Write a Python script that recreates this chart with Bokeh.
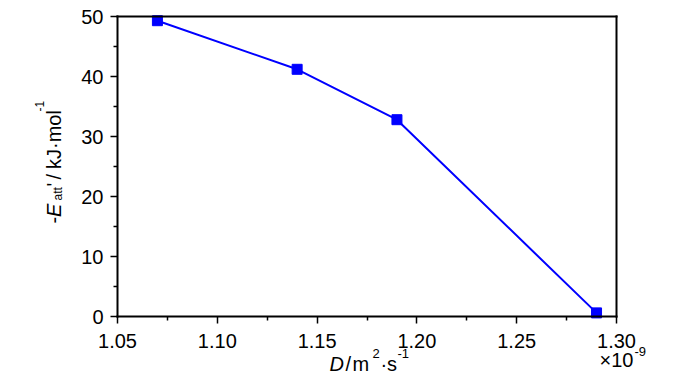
from bokeh.plotting import figure
from bokeh.models import FixedTicker, PrintfTickFormatter, Label, Range1d, LinearAxis
from bokeh.embed import file_html
from bokeh.resources import INLINE
import math

# Data (D in units of 1e-9 m^2/s, -E_att' in kJ/mol)
D_values = [1.07, 1.14, 1.19, 1.29]
E_values = [49.3, 41.2, 32.8, 0.6]

x_ticks = [1.05, 1.10, 1.15, 1.20, 1.25, 1.30]
x_minor = [1.075, 1.125, 1.175, 1.225, 1.275]
y_ticks = [0, 10, 20, 30, 40, 50]
y_minor = [5, 15, 25, 35, 45]

FONT = "Liberation Sans"

# layout (pixels) of the plotting box inside the 700x374 canvas
W, H = 700, 374
BL, BR, BT, BB = 117, 616, 16, 316
xpx = (BR - BL) / (x_ticks[-1] - x_ticks[0])
ypx = (BB - BT) / (y_ticks[-1] - y_ticks[0])
x_range = Range1d(x_ticks[0] - BL / xpx, x_ticks[-1] + (W - BR) / xpx)
y_range = Range1d(y_ticks[0] - (H - BB) / ypx, y_ticks[-1] + BT / ypx)

p = figure(width=W, height=H, output_backend="svg", toolbar_location=None,
           x_range=x_range, y_range=y_range, min_border=0)
p.xgrid.visible = False
p.ygrid.visible = False
p.outline_line_color = None

xb = (x_ticks[0], x_ticks[-1])
yb = (y_ticks[0], y_ticks[-1])

def style(ax):
    ax.axis_line_width = 2
    ax.axis_line_color = "black"
    ax.axis_line_cap = "square"
    ax.major_tick_line_width = 1.5
    ax.minor_tick_line_width = 1.5
    ax.major_tick_out = 7
    ax.major_tick_in = 0
    ax.minor_tick_out = 4
    ax.minor_tick_in = 0
    ax.major_label_text_font = FONT
    ax.major_label_text_font_size = "20px"
    ax.major_label_text_color = "black"
    ax.axis_label = None

xa = p.xaxis[0]
ya = p.yaxis[0]
style(xa)
style(ya)
xa.fixed_location = y_ticks[0]
xa.bounds = xb
xa.ticker = FixedTicker(ticks=x_ticks, minor_ticks=x_minor)
xa.formatter = PrintfTickFormatter(format="%.2f")
xa.major_label_standoff = 10
ya.fixed_location = x_ticks[0]
ya.bounds = yb
ya.ticker = FixedTicker(ticks=y_ticks, minor_ticks=y_minor)
ya.formatter = PrintfTickFormatter(format="%d")
ya.major_label_standoff = 7

# top and right frame lines
top = LinearAxis(fixed_location=y_ticks[-1], bounds=xb)
right = LinearAxis(fixed_location=x_ticks[-1], bounds=yb)
for ax in (top, right):
    style(ax)
    ax.major_tick_line_color = None
    ax.minor_tick_line_color = None
    ax.major_label_text_font_size = "0px"
    ax.major_label_text_alpha = 0
p.add_layout(top, "above")
p.add_layout(right, "right")

p.line(D_values, E_values, line_color="#0000FF", line_width=2)
p.scatter(D_values, E_values, marker="square", size=10, fill_color="#0000FF", line_color="#0000FF")

def hlab(text, x, base, size, style="normal"):
    # x: px from left; base: wanted baseline, px from bottom
    s = float(size.rstrip("px"))
    p.add_layout(Label(x=x, y=base + 0.3 * s, x_units="screen", y_units="screen", text=text,
                       text_font=FONT, text_font_size=size, text_font_style=style,
                       text_color="black", text_align="left", text_baseline="alphabetic"))

def vlab(text, base, y, size, style="normal"):
    # base: wanted baseline, px from left; y: px from bottom (text reads upward)
    s = float(size.rstrip("px"))
    p.add_layout(Label(x=base - 0.22 * s, y=y, x_units="screen", y_units="screen", text=text,
                       text_font=FONT, text_font_size=size, text_font_style=style,
                       text_color="black", angle=math.pi / 2, text_align="left",
                       text_baseline="alphabetic"))

# x-axis label: D / m^2·s^-1
b = 5
hlab("D", 329, b, "20px", "italic")
hlab("/", 345, b, "20px")
hlab("m", 352, b, "20px")
hlab("2", 372, b + 12, "13px")
hlab("\u00b7", 380, b, "20px")
hlab("s", 386.5, b, "20px")
hlab("-1", 397, b + 12, "13px")

# multiplier
hlab("\u00d710", 599, 9, "20px")
hlab("-9", 634, 19, "13px")

# y-axis label: -E_att' / kJ·mol^-1 (rotated)
bx = 58
vlab("-", bx, 151, "20px")
vlab("E", bx, 157.5, "20px", "italic")
vlab("att", bx + 2, 174, "12px")
vlab("'", bx, 188, "20px")
vlab("/", bx, 195, "20px")
vlab("kJ\u00b7mol", bx, 205.5, "20px")
vlab("-1", bx - 16, 263, "12px")

open("out.html", "w").write(file_html(p, INLINE))
